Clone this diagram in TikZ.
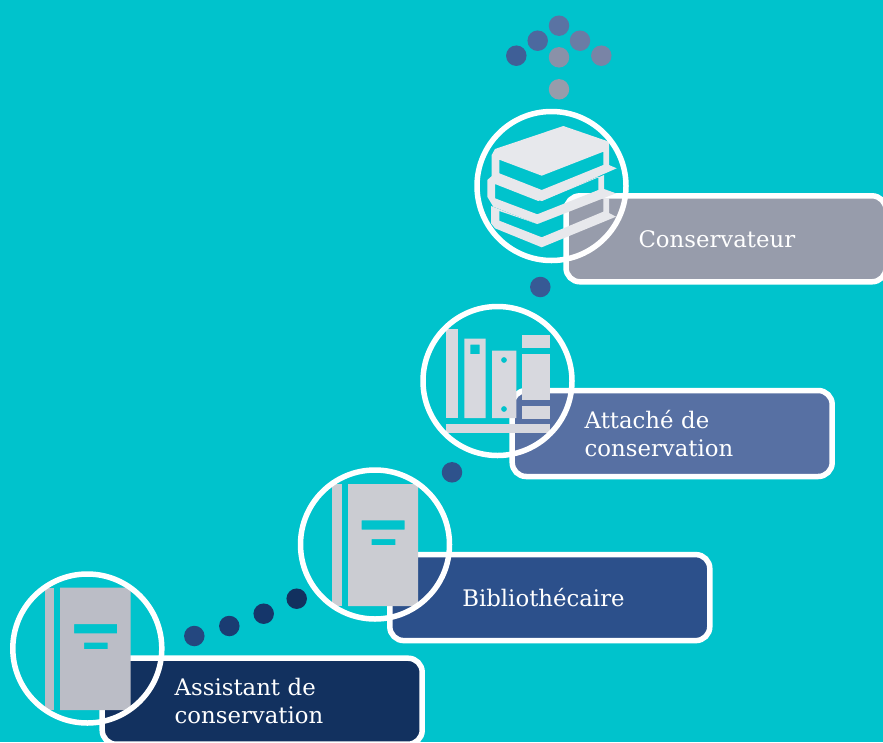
\documentclass[tikz,border=0pt]{standalone}
\usepackage{fontspec}
\setmainfont{DejaVu Serif}
\definecolor{backcol}{HTML}{00C3CC}
\definecolor{consercol}{HTML}{979CAB}
\definecolor{attachecol}{HTML}{5770A3}
\definecolor{biblicol}{HTML}{2C508B}
\definecolor{assistcol}{HTML}{12315F}
\tikzset{
  gradebox/.style={draw=white, line width=5.5pt, rounded corners=14pt, rectangle,
    minimum width=320pt, minimum height=86pt, inner xsep=72.5pt, inner ysep=0pt,
    text width=175pt, align=left, text=white,
    font=\fontsize{22.8}{28}\selectfont},
  ringnode/.style={circle, draw=white, line width=5.5pt, minimum size=149pt, inner sep=0pt},
  dotnode/.style={circle, minimum size=20.5pt, inner sep=0pt}
}
\begin{document}
\begin{tikzpicture}[x=1pt,y=-1pt]
  \useasboundingbox (0,0) rectangle (883,742);
  \fill[backcol] (0,0) rectangle (883,742);
  % dots
  \foreach \n/\x/\y/\c in {
      a/194.3/636/24477F, b/229.3/626/1A3C72, c/263.7/613.7/15366A, d/296.7/598.7/12315F,
      e/452/472.3/2E528C, f/540.3/287/375A95, g/559/89.3/979CAB, h/559/57.3/8A91A8,
      i/516.3/55.7/3F5F97, j/537.7/40.7/4C699F, k/559/25.7/5A73A3, l/580/40.7/6A7CA5,
      m/601.3/55.7/7984A6} {
    \definecolor{dotcol}{HTML}{\c}
    \node[dotnode, fill=dotcol] (dot\n) at (\x,\y) {};
  }
  % boxes
  \node[gradebox, fill=assistcol] (assistant) at (262.2,701.2) {Assistant de\\conservation};
  \node[gradebox, fill=biblicol] (biblio) at (549.8,597.6) {Bibliothécaire};
  \node[gradebox, fill=attachecol] (attache) at (672.2,433.5) {Attaché de\\conservation};
  \node[gradebox, fill=consercol] (conserv) at (726,238.8) {Conservateur};
  % assistant book
  \fill[color={rgb,255:red,187;green,189;blue,198}] (45,587.7) rectangle (54,710);
  \fill[color={rgb,255:red,187;green,189;blue,198}, even odd rule] (60,587.7) rectangle (130.7,710)
    (74,624) rectangle (117,633.3) (84,642.7) rectangle (107.7,649);
  % bibliothecaire book
  \fill[color={rgb,255:red,203;green,204;blue,210}] (332,484) rectangle (342,606);
  \fill[color={rgb,255:red,203;green,204;blue,210}, even odd rule] (348,484) rectangle (418,606)
    (361.7,520.3) rectangle (404.7,529.7) (371.7,539) rectangle (395.3,545);
  % shelf
  \begin{scope}[color={rgb,255:red,215;green,216;blue,222}]
    \fill (446,329.3) rectangle (458,418);
    \fill[even odd rule] (464.3,338.7) rectangle (485.7,418) (470.3,344.7) rectangle (479.7,354);
    \fill[even odd rule] (492,350.7) rectangle (516.3,418) (504,360) circle (3) (504,409) circle (3);
    \fill (522,335) rectangle (550,347.7);
    \fill (522,354) rectangle (550,399.7);
    \fill (522,406) rectangle (550,419);
    \fill (446,424) rectangle (550,433);
  \end{scope}
  % stack of books
  \begin{scope}[color={rgb,255:red,231;green,232;blue,236}]
    \fill[even odd rule] (563.3,126) -- (609,141.7) -- (609,165) -- (616.7,168.3) -- (541.7,201)
      -- (495,181.7) -- (491.7,176.7) -- (491.7,155) -- (495,149) -- cycle
      (499.3,159.7) -- (541.7,175.7) -- (603.3,151.7) -- (603.3,165) -- (541.7,190) -- (499.3,173.3) -- cycle;
    \fill[even odd rule] (495,173.3) -- (541.7,201) -- (604,175) -- (604,189) -- (616,193.3)
      -- (537.3,224) -- (493.3,206.7) -- (487.3,196.7) -- (487.3,180) -- cycle
      (495,184) -- (538.3,201) -- (598.3,176.7) -- (598.3,190) -- (537.3,214.3) -- (495,198.3) -- cycle;
    \fill[even odd rule] (491,206) -- (537.3,224) -- (603.3,198) -- (609,198) -- (609,213) -- (616,216.7)
      -- (541.7,247.3) -- (495,228.3) -- (491,223.3) -- cycle
      (499.3,211) -- (537.3,224) -- (603.3,198) -- (603.3,211.7) -- (541.7,237.3) -- (499.3,220.7) -- cycle;
  \end{scope}
  % rings
  \node[ringnode] (ringassistant) at (87.3,648.5) {};
  \node[ringnode] (ringbiblio) at (375,544.5) {};
  \node[ringnode] (ringattache) at (497.5,381) {};
  \node[ringnode] (ringconserv) at (551.5,186) {};
\end{tikzpicture}
\end{document}
